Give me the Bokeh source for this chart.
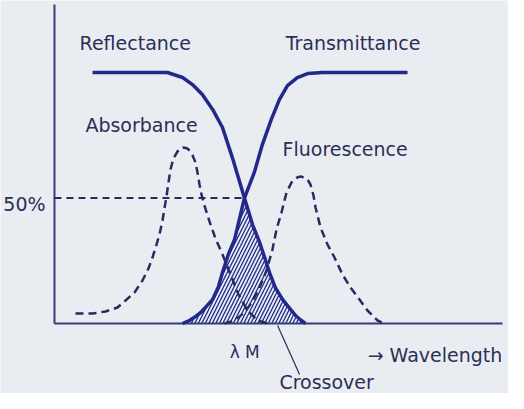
import numpy as np
from bokeh.plotting import figure
from bokeh.models import Range1d, Label
from bokeh.embed import file_html
from bokeh.resources import INLINE

# ---- data (wavelength in arbitrary units, signal in %) ----
refl_x = [8.5, 19.6, 25.2, 28.6, 30.8, 33.0, 35.3, 37.5, 39.7, 42.4, 44.2, 45.8, 46.9, 48.0, 49.3, 50.9, 52.5, 53.8, 55.1, 56.0]
refl_y = [100, 100, 100, 98.0, 95.2, 91.2, 85.3, 78.1, 66.1, 50.0, 39.4, 32.3, 26.3, 20.3, 14.3, 9.6, 6.0, 3.2, 1.2, 0.0]

trans_x = [28.6, 30.1, 31.5, 32.4, 33.7, 35.3, 36.6, 37.5, 38.8, 40.2, 42.4, 44.6, 46.4, 48.4, 50.2, 52.0, 54.2, 56.5, 59.8, 78.8]
trans_y = [0.0, 1.2, 2.8, 4.0, 6.4, 9.6, 14.7, 20.3, 27.5, 33.5, 50.0, 60.2, 71.3, 81.3, 89.2, 94.8, 98.0, 99.6, 100, 100]

abs_x = [4.69, 8.48, 11.38, 14.06, 15.85, 17.86, 19.64, 20.98, 21.88, 22.77, 23.44, 24.11, 24.55, 25.0, 25.45, 25.89,
         26.56, 27.46, 28.13, 28.80, 29.69, 30.58, 31.47, 31.92, 32.37, 32.81, 33.48, 34.60, 35.94, 37.50,
         39.29, 41.07, 43.08, 45.31, 47.54]
abs_y = [3.98, 3.98, 4.78, 6.37, 9.16, 12.35, 17.13, 21.91, 26.29, 31.47, 35.46, 41.04, 45.8, 50.6, 56.18, 61.35,
         65.74, 68.53, 69.72, 70.12, 69.72, 68.13, 64.14, 60.16, 55.38, 51.39, 47.01, 40.64, 33.86, 27.49,
         19.52, 11.55, 5.18, 1.20, 0.0]

fluor_x = [37.95, 40.18, 42.41, 44.20, 45.76, 47.32, 48.66, 49.55, 50.67, 51.79, 52.90, 53.79, 54.46, 55.13,
           56.47, 57.14, 57.81, 58.26, 59.38, 60.94, 62.50, 64.29, 66.07, 68.08, 69.87, 72.10, 73.66]
fluor_y = [0.0, 1.20, 4.38, 8.76, 14.34, 21.12, 29.48, 37.45, 44.22, 52.19, 56.18, 57.77, 58.40, 58.57,
           57.37, 55.38, 51.00, 46.22, 38.25, 31.47, 26.29, 19.52, 14.34, 9.56, 5.18, 1.20, 0.0]

crossover_x = 42.4      # λM
half_level = 50         # 50 %
axis_top = 127.1
axis_right = 100.0

# annotation leader (Crossover)
leader_x = [49.8, 54.7]
leader_y = [-0.8, -20.3]

# ---- styling ----
BG = "#e9edf1"
SOLID = "#22298a"
DASH = "#262c62"
TEXT = "#2b2f57"
AXIS = "#363b7c"
FONT = "DejaVu Sans"

p = figure(width=508, height=393, output_backend="svg", toolbar_location=None,
           x_range=Range1d(-12.05, 101.34), y_range=Range1d(-27.89, 128.69),
           x_axis_type=None, y_axis_type=None, min_border=0)
p.background_fill_color = BG
p.border_fill_color = BG
p.outline_line_color = None
p.grid.visible = False

# hatched crossover region = min(T, R)
tx = np.array(trans_x); ty = np.array(trans_y)
rx = np.array(refl_x); ry = np.array(refl_y)
hx = list(tx[tx <= crossover_x]) + list(rx[(rx > crossover_x) & (ry <= half_level + 1e-9)])
hy = list(ty[tx <= crossover_x]) + list(ry[(rx > crossover_x) & (ry <= half_level + 1e-9)])
p.patch(hx, hy, fill_alpha=0, line_alpha=0, hatch_pattern="/", hatch_scale=7,
        hatch_weight=1.3, hatch_color=SOLID)

# axes
p.line([0, 0], [0, axis_top], line_color=AXIS, line_width=2)
p.line([0, axis_right], [0, 0], line_color=AXIS, line_width=2)

# 50% dashed guide
p.line([0, crossover_x], [half_level, half_level], line_color=DASH, line_width=1.8, line_dash="7 5")

# dashed spectra
p.line(abs_x, abs_y, line_color=DASH, line_width=2.5, line_dash="8 5")
p.line(fluor_x, fluor_y, line_color=DASH, line_width=2.5, line_dash="8 5")

# solid filter curves
p.line(refl_x, refl_y, line_color=SOLID, line_width=3.5)
p.line(trans_x, trans_y, line_color=SOLID, line_width=3.5)

# leader line
p.line(leader_x, leader_y, line_color=TEXT, line_width=1.2)

def lab(x, y, t, size="19px", align="left"):
    p.add_layout(Label(x=x, y=y, text=t, text_font=FONT, text_font_size=size,
                       text_color=TEXT, text_baseline="alphabetic", text_align=align))

lab(5.6, 111.6, "Reflectance")
lab(51.6, 111.6, "Transmittance")
lab(6.9, 78.9, "Absorbance")
lab(50.9, 69.7, "Fluorescence")
lab(-2.0, 47.8, "50%", align="right")
lab(39.1, -11.5, "λ M", size="17px")
lab(69.9, -12.7, "→ Wavelength")
lab(50.2, -23.2, "Crossover")

open("out.html", "w").write(file_html(p, INLINE))
